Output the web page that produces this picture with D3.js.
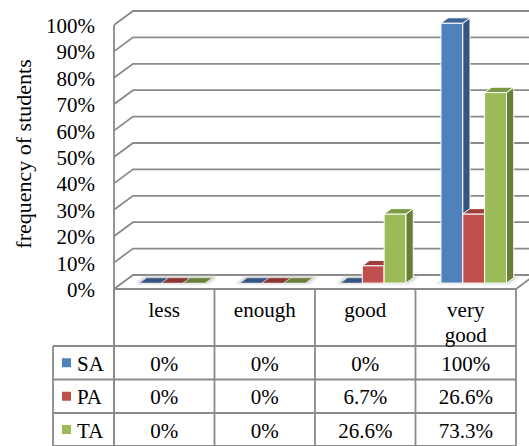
<!DOCTYPE html>
<html>
<head>
<meta charset="utf-8">
<script src="https://cdn.jsdelivr.net/npm/d3@7"></script>
<style>
  body { margin: 0; background: #fff; }
  svg { display: block; font-family: "Liberation Serif", "Times New Roman", serif; }
</style>
</head>
<body>
<div id="chart"></div>
<script>
// data
let categories = ["less", "enough", "good", "very good"];
let seriesNames = ["SA", "PA", "TA"];
let valuesSA = [0, 0, 0, 100];
let valuesPA = [0, 0, 6.7, 26.6];
let valuesTA = [0, 0, 26.6, 73.3];
let yTicks = [0, 10, 20, 30, 40, 50, 60, 70, 80, 90, 100];

let seriesValues = [valuesSA, valuesPA, valuesTA];
let frontColor = ["#4f81bd", "#c0504d", "#9bbb59"];
let sideColor = ["#34557f", "#8a3634", "#687f38"];
let topColor = ["#3c6496", "#9d3f3c", "#7d9945"];

let plotWidth = 529;
let plotHeight = 446;

// 3d offsets of the back wall
let DX = 19, DY = 14;
let floorY = 289;
let leftX = 114, rightX = 516;
let legendLeft = 53;
let rowY = [289, 346, 379.5, 413, 446];
let gridColor = "#8a8a8a";
let fontSize = "21px";

let svg = d3.select("#chart")
    .append("svg")
    .attr("width", plotWidth)
    .attr("height", plotHeight);

let xScale = d3.scaleBand()
    .domain(categories)
    .range([leftX, rightX]);

let yScale = d3.scaleLinear()
    .domain([0, 100])
    .range([floorY, 25]);

// bars sit a little deeper, so they come out slightly shorter
let barScale = d3.scaleLinear()
    .domain([0, 100])
    .range([floorY, 29]);

let subScale = d3.scaleBand()
    .domain(seriesNames)
    .range([0, xScale.bandwidth()])
    .paddingOuter(0.8);

// project a point (x on front plane, value, depth 0..1)
function proj(x, v, z) {
    return [x + z * DX, yScale(v) - z * DY];
}
function projBar(x, v, z) {
    return [x + z * DX, barScale(v) - z * DY];
}
function poly(pts) {
    return pts.map(p => p.join(",")).join(" ");
}

// gridlines on side wall and back wall
svg.append("g").selectAll("polyline")
    .data(yTicks)
    .enter()
    .append("polyline")
    .attr("points", d => poly([proj(leftX, d, 0), proj(leftX, d, 1), [plotWidth + 10, yScale(d) - DY]]))
    .attr("fill", "none")
    .attr("stroke", gridColor)
    .attr("stroke-width", 1.8);

// floor right edge
svg.append("line")
    .attr("x1", rightX).attr("y1", floorY)
    .attr("x2", rightX + DX).attr("y2", floorY - DY)
    .attr("stroke", gridColor)
    .attr("stroke-width", 1.8);

// blur for bar shadows
let defs = svg.append("defs");
defs.append("filter").attr("id", "soft")
    .append("feGaussianBlur").attr("stdDeviation", 1.4);

// bars
let z0 = 0.42, z1 = 0.8;
let barData = [];
categories.forEach(function(c, ci) {
    seriesNames.forEach(function(s, si) {
        barData.push({cat: c, s: s, si: si, v: seriesValues[si][ci]});
    });
});

let shadows = svg.append("g").attr("filter", "url(#soft)");
let bars = svg.append("g");

barData.forEach(function(d) {
    let xa = xScale(d.cat) + subScale(d.s);
    let xb = xa + subScale.bandwidth();
    shadows.append("polygon")
        .attr("points", poly([projBar(xa - 3, 0, z0 - 0.05), projBar(xb + 3, 0, z0 - 0.05), projBar(xb + 3, 0, z1 + 0.1), projBar(xa - 3, 0, z1 + 0.1)]))
        .attr("fill", "#c8c8c8");
});

barData.forEach(function(d) {
    let xa = xScale(d.cat) + subScale(d.s);
    let xb = xa + subScale.bandwidth();
    let g = bars.append("g");
    if (d.v > 0) {
        // front face
        g.append("polygon")
            .attr("points", poly([projBar(xa, 0, z0), projBar(xb, 0, z0), projBar(xb, d.v, z0), projBar(xa, d.v, z0)]))
            .attr("fill", frontColor[d.si])
            .attr("stroke", "#fff").attr("stroke-width", 1).attr("stroke-linejoin", "round");
        // right side
        g.append("polygon")
            .attr("points", poly([projBar(xb, 0, z0), projBar(xb, 0, z1), projBar(xb, d.v, z1), projBar(xb, d.v, z0)]))
            .attr("fill", sideColor[d.si])
            .attr("stroke", "#fff").attr("stroke-width", 1).attr("stroke-linejoin", "round");
    }
    // top face
    g.append("polygon")
        .attr("points", poly([projBar(xa, d.v, z0), projBar(xb, d.v, z0), projBar(xb, d.v, z1), projBar(xa, d.v, z1)]))
        .attr("fill", d.v > 0 ? topColor[d.si] : sideColor[d.si])
        .attr("stroke", "#fff").attr("stroke-width", d.v > 0 ? 1 : 0.5).attr("stroke-linejoin", "round");
});

// y axis front edge
svg.append("line")
    .attr("x1", leftX).attr("y1", yScale(100))
    .attr("x2", leftX).attr("y2", plotHeight)
    .attr("stroke", gridColor)
    .attr("stroke-width", 1.8);

// y tick labels
svg.append("g").selectAll("text")
    .data(yTicks)
    .enter()
    .append("text")
    .attr("x", 95)
    .attr("y", d => yScale(d) + 8)
    .attr("text-anchor", "end")
    .attr("font-size", fontSize)
    .attr("fill", "#000")
    .text(d => d + "%");

// y title
svg.append("text")
    .attr("transform", "translate(31, 154) rotate(-90)")
    .attr("text-anchor", "middle")
    .attr("font-size", "22px")
    .attr("fill", "#000")
    .text("frequency of students");

// data table
let table = svg.append("g")
    .attr("stroke", gridColor)
    .attr("stroke-width", 1.8);

// horizontal lines
table.append("line").attr("x1", leftX).attr("x2", rightX).attr("y1", rowY[0]).attr("y2", rowY[0]);
rowY.slice(1).forEach(function(y) {
    table.append("line").attr("x1", legendLeft).attr("x2", rightX).attr("y1", y).attr("y2", y);
});
// vertical lines
categories.forEach(function(c) {
    table.append("line").attr("x1", xScale(c)).attr("x2", xScale(c)).attr("y1", rowY[0]).attr("y2", plotHeight);
});
table.append("line").attr("x1", rightX).attr("x2", rightX).attr("y1", rowY[0]).attr("y2", plotHeight);
table.append("line").attr("x1", legendLeft).attr("x2", legendLeft).attr("y1", rowY[1]).attr("y2", plotHeight);

// category labels
svg.append("g").selectAll("text")
    .data(categories)
    .enter()
    .append("text")
    .attr("x", d => xScale(d) + xScale.bandwidth() / 2)
    .attr("y", 317)
    .attr("text-anchor", "middle")
    .attr("font-size", fontSize)
    .attr("fill", "#000")
    .each(function(d) {
        let words = d.split(" ");
        let t = d3.select(this);
        words.forEach(function(w, i) {
            t.append("tspan")
                .attr("x", xScale(d) + xScale.bandwidth() / 2)
                .attr("dy", i === 0 ? 0 : 25)
                .text(w);
        });
    });

// series rows
seriesNames.forEach(function(s, si) {
    let cy = (rowY[si + 1] + rowY[si + 2]) / 2;
    svg.append("rect")
        .attr("x", 62).attr("y", cy - 4.5)
        .attr("width", 9).attr("height", 9)
        .attr("fill", frontColor[si]);
    svg.append("text")
        .attr("x", 77)
        .attr("y", cy + 8)
        .attr("font-size", fontSize)
        .attr("fill", "#000")
        .text(s);
    svg.append("g").selectAll("text")
        .data(seriesValues[si])
        .enter()
        .append("text")
        .attr("x", (d, i) => xScale(categories[i]) + xScale.bandwidth() / 2)
        .attr("y", cy + 8)
        .attr("text-anchor", "middle")
        .attr("font-size", fontSize)
        .attr("fill", "#000")
        .text(d => d + "%");
});
</script>
</body>
</html>
